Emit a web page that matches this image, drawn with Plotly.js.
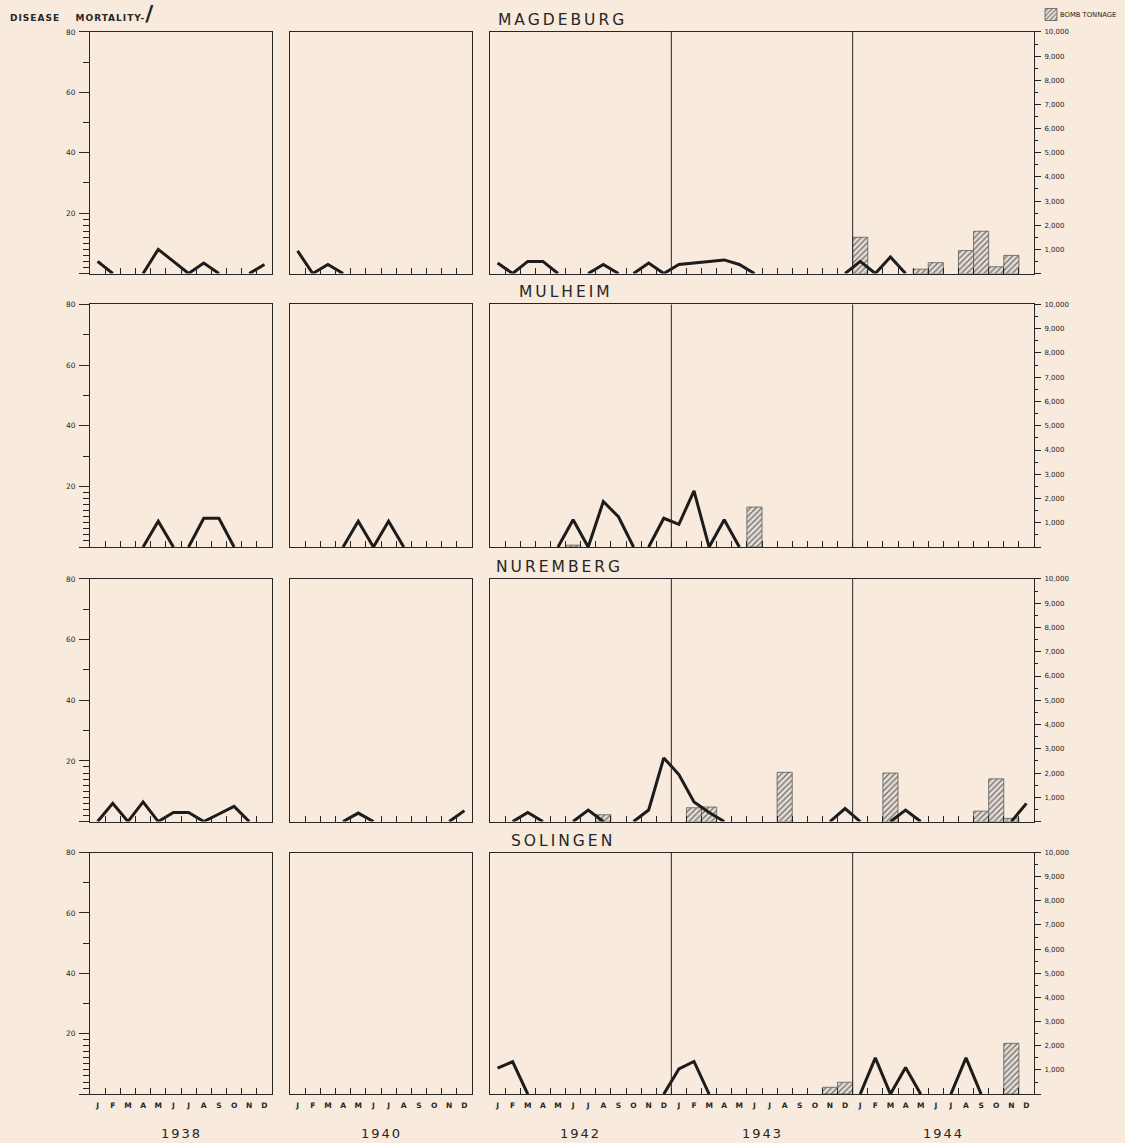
<!DOCTYPE html>
<html>
<head>
<meta charset="utf-8">
<script src="https://cdn.plot.ly/plotly-3.0.1.min.js"></script>
<style>html,body{margin:0;padding:0;background:#f8eadc;}</style>
</head>
<body>
<div id="chart" style="width:1125px;height:1143px;"></div>
<script>
// ---------------- DATA ----------------
const cities = ['MAGDEBURG', 'MULHEIM', 'NUREMBERG', 'SOLINGEN'];
const months = ['J','F','M','A','M','J','J','A','S','O','N','D'];
const yearsPanel1 = ['1938'];
const yearsPanel2 = ['1940'];
const yearsPanel3 = ['1942', '1943', '1944'];

// Disease mortality (left scale, 0-80), monthly J..D
const magdeburg1938 = [4, 0, 0, 0, 8, 4, 0, 3.5, 0, 0, 0, 3];
const magdeburg1940 = [7.5, 0, 3, 0, 0, 0, 0, 0, 0, 0, 0, 0];
const magdeburg1942 = [3.5, 0, 4, 4, 0, 0, 0, 3, 0, 0, 3.5, 0];
const magdeburg1943 = [3, 3.5, 4, 4.5, 3, 0, 0, 0, 0, 0, 0, 0];
const magdeburg1944 = [4, 0, 5.5, 0, 0, 0, 0, 0, 0, 0, 0, 0];

const mulheim1938 = [0, 0, 0, 0, 8.5, 0, 0, 9.5, 9.5, 0, 0, 0];
const mulheim1940 = [0, 0, 0, 0, 8.5, 0, 8.5, 0, 0, 0, 0, 0];
const mulheim1942 = [0, 0, 0, 0, 0, 9, 0, 15, 10, 0, 0, 9.5];
const mulheim1943 = [7.5, 18.5, 0, 9, 0, 0, 0, 0, 0, 0, 0, 0];
const mulheim1944 = [0, 0, 0, 0, 0, 0, 0, 0, 0, 0, 0, 0];

const nuremberg1938 = [0, 6, 0, 6.5, 0, 3, 3, 0, 2.5, 5, 0, 0];
const nuremberg1940 = [0, 0, 0, 0, 2.8, 0, 0, 0, 0, 0, 0, 3.6];
const nuremberg1942 = [0, 0, 3, 0, 0, 0, 3.8, 0, 0, 0, 3.8, 21];
const nuremberg1943 = [15.5, 6.5, 3, 0, 0, 0, 0, 0, 0, 0, 0, 4.3];
const nuremberg1944 = [0, 0, 0, 3.8, 0, 0, 0, 0, 0, 0, 0, 6];

const solingen1938 = [0, 0, 0, 0, 0, 0, 0, 0, 0, 0, 0, 0];
const solingen1940 = [0, 0, 0, 0, 0, 0, 0, 0, 0, 0, 0, 0];
const solingen1942 = [8.6, 10.7, 0, 0, 0, 0, 0, 0, 0, 0, 0, 0];
const solingen1943 = [8.3, 10.8, 0, 0, 0, 0, 0, 0, 0, 0, 0, 0];
const solingen1944 = [0, 12, 0, 8.8, 0, 0, 0, 12, 0, 0, 0, 0];

// Bomb tonnage (right scale, 0-10,000), monthly J..D
const magdeburgTons1942 = [0, 0, 0, 0, 0, 0, 0, 0, 0, 0, 0, 0];
const magdeburgTons1943 = [0, 0, 0, 0, 0, 0, 0, 0, 0, 0, 0, 0];
const magdeburgTons1944 = [1500, 0, 0, 0, 180, 450, 0, 950, 1750, 280, 750, 0];

const mulheimTons1942 = [0, 0, 0, 0, 0, 80, 0, 0, 0, 0, 0, 0];
const mulheimTons1943 = [0, 0, 0, 0, 0, 1650, 0, 0, 0, 0, 0, 0];
const mulheimTons1944 = [0, 0, 0, 0, 0, 0, 0, 0, 0, 0, 0, 0];

const nurembergTons1942 = [0, 0, 0, 0, 0, 0, 0, 280, 0, 0, 0, 0];
const nurembergTons1943 = [0, 570, 600, 0, 0, 0, 0, 2030, 0, 0, 0, 0];
const nurembergTons1944 = [0, 0, 2000, 0, 0, 0, 0, 0, 430, 1760, 130, 0];

const solingenTons1942 = [0, 0, 0, 0, 0, 0, 0, 0, 0, 0, 0, 0];
const solingenTons1943 = [0, 0, 0, 0, 0, 0, 0, 0, 0, 0, 280, 490];
const solingenTons1944 = [0, 0, 0, 0, 0, 0, 0, 0, 0, 0, 2100, 0];

const mortalityTicks = [0, 20, 40, 60, 80];
const tonnageTicks = [0, 1000, 2000, 3000, 4000, 5000, 6000, 7000, 8000, 9000, 10000];

// ---------------- ASSEMBLY ----------------
const mortality = [
  [magdeburg1938, magdeburg1940, magdeburg1942.concat(magdeburg1943, magdeburg1944)],
  [mulheim1938, mulheim1940, mulheim1942.concat(mulheim1943, mulheim1944)],
  [nuremberg1938, nuremberg1940, nuremberg1942.concat(nuremberg1943, nuremberg1944)],
  [solingen1938, solingen1940, solingen1942.concat(solingen1943, solingen1944)]
];
const tonnage = [
  magdeburgTons1942.concat(magdeburgTons1943, magdeburgTons1944),
  mulheimTons1942.concat(mulheimTons1943, mulheimTons1944),
  nurembergTons1942.concat(nurembergTons1943, nurembergTons1944),
  solingenTons1942.concat(solingenTons1943, solingenTons1944)
];
const panelYears = [yearsPanel1, yearsPanel2, yearsPanel3];

// ---------------- STYLE / GEOMETRY ----------------
const W = 1125, H = 1143;
const BG = '#f8eadc';
const INK = '#262626';
const FONT = 'DejaVu Sans, sans-serif';
const colPx = [[90, 272], [290, 472], [490, 1034]];
const rowPx = [[30, 272], [303, 546], [578, 821], [852, 1094]];
const titleLeft = [496, 517, 494, 509];

function axName(prefix, i) { return prefix + 'axis' + (i === 1 ? '' : i); }
function axRef(prefix, i) { return prefix + (i === 1 ? '' : i); }

// break the line where it rests on the zero baseline
function lineXY(vals) {
  const xs = [], ys = [];
  vals.forEach((v, i) => {
    if (i > 0 && v === 0 && vals[i - 1] === 0) { xs.push(i); ys.push(null); }
    xs.push(i + 0.5); ys.push(v);
  });
  return {xs, ys};
}

const traces = [];
const layout = {
  width: W, height: H,
  margin: {l: 0, r: 0, t: 0, b: 0},
  paper_bgcolor: BG, plot_bgcolor: BG,
  font: {family: FONT, color: INK},
  showlegend: true, hovermode: false, dragmode: false,
  legend: {x: 1031 / W, xanchor: 'left', y: 1 + 2 / H, yanchor: 'top',
           bgcolor: 'rgba(0,0,0,0)', font: {size: 8, family: FONT, color: INK},
           itemwidth: 30, borderwidth: 0, itemclick: false, itemdoubleclick: false},
  annotations: [], shapes: []
};

const LINE_W = 1;
let legendShown = false;
for (let r = 0; r < 4; r++) {
  const yd = [1 - rowPx[r][1] / H, 1 - rowPx[r][0] / H];
  for (let p = 0; p < 3; p++) {
    const nYears = panelYears[p].length, n = 12 * nYears;
    const xi = r * 3 + p + 1;
    const yi = r * 4 + p + 1;
    const centers = Array.from({length: n}, (_, i) => i + 0.5);
    const bounds = Array.from({length: n - 1}, (_, i) => i + 1);
    const labels = centers.map((_, i) => months[i % 12]);

    layout[axName('x', xi)] = {
      domain: [colPx[p][0] / W, colPx[p][1] / W], anchor: axRef('y', yi),
      range: [0, n], showline: true, mirror: true, linecolor: INK, linewidth: LINE_W,
      showgrid: false, zeroline: false, fixedrange: true,
      tickmode: 'array', tickvals: centers, ticktext: labels, ticks: '',
      showticklabels: r === 3, tickfont: {size: 7.5, family: FONT, color: INK, weight: 'bold'},
      ticklabelstandoff: 4,
      minor: {tickmode: 'array', tickvals: bounds, ticks: 'inside', ticklen: 6,
              tickcolor: INK, tickwidth: 1, showgrid: false}
    };

    const yBase = {
      domain: yd, anchor: axRef('x', xi), showline: true, mirror: true,
      linecolor: INK, linewidth: LINE_W, showgrid: false, zeroline: false, fixedrange: true
    };
    if (p === 0) {
      Object.assign(yBase, {
        range: [0, 80], tickmode: 'array', tickvals: mortalityTicks,
        ticktext: mortalityTicks.map(v => v === 0 ? '' : String(v)),
        ticks: 'outside', ticklen: 10, tickcolor: INK, tickwidth: 1,
        tickfont: {size: 7.5, family: FONT, color: INK}, ticklabelstandoff: 2,
        minor: {tickmode: 'array', tickvals: [2,4,6,8,10,12,14,16,18,30,50,70],
                ticks: 'outside', ticklen: 6, tickcolor: INK, tickwidth: 1}
      });
      layout[axName('y', yi)] = yBase;
      const L = lineXY(mortality[r][p]);
      traces.push({type: 'scatter', mode: 'lines', x: L.xs, y: L.ys,
        xaxis: axRef('x', xi), yaxis: axRef('y', yi), connectgaps: false,
        line: {color: '#1c1c1c', width: 3}, showlegend: false, hoverinfo: 'skip'});
    } else if (p === 1) {
      Object.assign(yBase, {range: [0, 80], ticks: '', showticklabels: false});
      layout[axName('y', yi)] = yBase;
      const L = lineXY(mortality[r][p]);
      traces.push({type: 'scatter', mode: 'lines', x: L.xs, y: L.ys,
        xaxis: axRef('x', xi), yaxis: axRef('y', yi), connectgaps: false,
        line: {color: '#1c1c1c', width: 3}, showlegend: false, hoverinfo: 'skip'});
    } else {
      Object.assign(yBase, {
        range: [0, 10000], side: 'right', tickmode: 'array', tickvals: tonnageTicks,
        ticktext: tonnageTicks.map(v => v === 0 ? '' : v.toLocaleString('en-US')),
        ticks: 'outside', ticklen: 6, tickcolor: INK, tickwidth: 1,
        tickfont: {size: 7, family: FONT, color: INK}, ticklabelstandoff: 2,
        minor: {tickmode: 'array', tickvals: tonnageTicks.slice(0, -1).map(v => v + 500),
                ticks: 'outside', ticklen: 3, tickcolor: INK, tickwidth: 1}
      });
      layout[axName('y', yi)] = yBase;
      const oi = r * 4 + 4;
      layout[axName('y', oi)] = {overlaying: axRef('y', yi), range: [0, 80], visible: false,
                                  fixedrange: true, anchor: axRef('x', xi)};
      // bombs
      traces.push({type: 'bar', x: centers, y: tonnage[r].map(v => v > 0 ? v : null),
        width: 1, xaxis: axRef('x', xi), yaxis: axRef('y', yi),
        name: ' ', showlegend: !legendShown, hoverinfo: 'skip',
        marker: {color: '#e4dcd3', line: {color: '#5a5a5a', width: 0.8},
                 pattern: {shape: '/', fgcolor: '#6a6a6a', bgcolor: '#e6ddd4', size: 4, solidity: 0.3}}});
      legendShown = true;
      // disease line
      const L = lineXY(mortality[r][p]);
      traces.push({type: 'scatter', mode: 'lines', x: L.xs, y: L.ys,
        xaxis: axRef('x', xi), yaxis: axRef('y', oi), connectgaps: false,
        line: {color: '#1c1c1c', width: 3}, showlegend: false, hoverinfo: 'skip'});
      // year dividers
      for (let j = 1; j < nYears; j++) {
        layout.shapes.push({type: 'line', xref: axRef('x', xi), yref: axRef('y', yi) + ' domain',
          x0: 12 * j, x1: 12 * j, y0: 0, y1: 1, line: {color: INK, width: LINE_W}});
      }
    }

    // year labels beneath bottom row
    if (r === 3) {
      panelYears[p].forEach((yr, j) => {
        layout.annotations.push({xref: axRef('x', xi), yref: 'paper', x: 12 * j + 6,
          y: 1 - 1133 / H, yanchor: 'middle', showarrow: false,
          text: '<span style="letter-spacing:2px">' + yr + '</span>',
          font: {size: 13, family: FONT, color: INK}});
      });
    }
  }
  // city titles
  layout.annotations.push({xref: 'paper', yref: 'paper', x: titleLeft[r] / W, xanchor: 'left',
    y: 1 - (rowPx[r][0] - 12) / H, yanchor: 'middle', showarrow: false,
    text: '<span style="letter-spacing:3px">' + cities[r] + '</span>',
    font: {size: 15.5, family: FONT, color: INK}});
}

// top-left series caption
layout.annotations.push({xref: 'paper', yref: 'paper', x: 8 / W, xanchor: 'left',
  y: 1 - 12 / H, yanchor: 'middle', showarrow: false,
  text: '<span style="letter-spacing:1px">DISEASE\u2003\u2002MORTALITY-</span><span style="font-size:22px"><b>/</b></span>',
  font: {size: 9, family: FONT, color: INK, weight: 'bold'}});
// bomb tonnage key text (swatch comes from the legend)
layout.annotations.push({xref: 'paper', yref: 'paper', x: 1118 / W, xanchor: 'right',
  y: 1 - 13 / H, yanchor: 'middle', showarrow: false,
  text: 'BOMB TONNAGE',
  font: {size: 6.8, family: FONT, color: INK}});

Plotly.newPlot('chart', traces, layout, {displayModeBar: false, responsive: false});
</script>
</body>
</html>
